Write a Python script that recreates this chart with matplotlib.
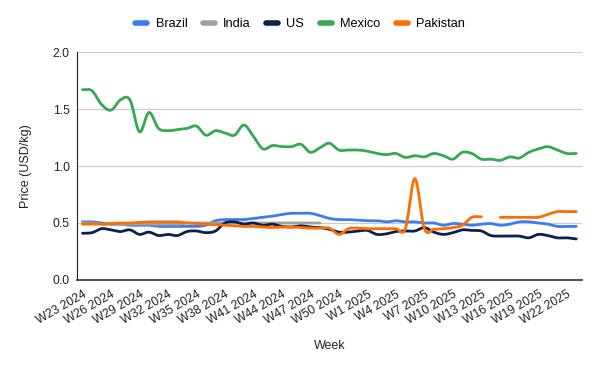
import numpy as np
import matplotlib
matplotlib.use("Agg")
import matplotlib.pyplot as plt

plt.rcParams["font.family"] = ["Liberation Sans", "DejaVu Sans"]

# weekly categories W23 2024 .. W23 2025
weeks = [f"W{w} 2024" for w in range(23, 53)] + [f"W{w} 2025" for w in range(1, 24)]
tick_labels = ["W23 2024", "W26 2024", "W29 2024", "W32 2024", "W35 2024", "W38 2024",
               "W41 2024", "W44 2024", "W47 2024", "W50 2024", "W1 2025", "W4 2025",
               "W7 2025", "W10 2025", "W13 2025", "W16 2025", "W19 2025", "W22 2025"]

nan = np.nan
brazil = [0.51, 0.51, 0.50, 0.49, 0.49, 0.48, 0.48, 0.48, 0.47, 0.47, 0.47, 0.47, 0.47, 0.48,
          0.52, 0.53, 0.53, 0.53, 0.54, 0.55, 0.56, 0.575, 0.585, 0.585, 0.585, 0.565, 0.54,
          0.53, 0.53, 0.525, 0.52, 0.52, 0.51, 0.52, 0.51, 0.51, 0.50, 0.50, 0.48, 0.495,
          0.49, 0.48, 0.49, 0.495, 0.48, 0.49, 0.51, 0.51, 0.50, 0.49, 0.47, 0.47, 0.47]
india = [0.50, 0.50, 0.49, 0.49, 0.49, 0.49, 0.49, 0.49, 0.49, 0.49, 0.49, 0.50, 0.50, 0.50,
         0.50, 0.50, 0.50, 0.50, 0.50, 0.50, 0.50, 0.50, 0.50, 0.50, 0.50, 0.50,
         nan, nan, nan, nan, nan, nan, nan, nan, nan, nan, nan, nan, nan, nan, nan, nan,
         nan, nan, nan, nan, nan, nan, nan, nan, nan, nan, nan]
us = [0.41, 0.415, 0.45, 0.44, 0.425, 0.44, 0.40, 0.42, 0.39, 0.40, 0.39, 0.425, 0.43, 0.415,
      0.43, 0.50, 0.51, 0.49, 0.50, 0.48, 0.49, 0.47, 0.465, 0.475, 0.465, 0.46, 0.445, 0.42,
      0.42, 0.43, 0.435, 0.40, 0.405, 0.425, 0.43, 0.43, 0.46, 0.42, 0.40, 0.415, 0.44, 0.435,
      0.43, 0.39, 0.385, 0.385, 0.385, 0.37, 0.40, 0.39, 0.37, 0.37, 0.36]
mexico = [1.67, 1.66, 1.54, 1.49, 1.58, 1.58, 1.30, 1.47, 1.33, 1.31, 1.32, 1.33, 1.35, 1.27,
          1.31, 1.29, 1.27, 1.36, 1.26, 1.15, 1.18, 1.17, 1.17, 1.19, 1.12, 1.16, 1.20, 1.14,
          1.14, 1.14, 1.13, 1.11, 1.10, 1.11, 1.075, 1.09, 1.08, 1.11, 1.09, 1.06, 1.12, 1.11,
          1.06, 1.06, 1.05, 1.08, 1.07, 1.12, 1.15, 1.17, 1.14, 1.11, 1.11]
pakistan = [0.49, 0.49, 0.49, 0.495, 0.50, 0.50, 0.505, 0.51, 0.51, 0.51, 0.51, 0.50, 0.495,
            0.49, 0.485, 0.48, 0.475, 0.47, 0.47, 0.465, 0.46, 0.465, 0.465, 0.46, 0.455, 0.455,
            0.455, 0.40, 0.45, 0.455, 0.45, 0.45, 0.45, 0.45, 0.45, 0.89, 0.45, 0.445, 0.45,
            0.46, 0.48, 0.55, 0.555, nan, 0.55, 0.55, 0.55, 0.55, 0.55, 0.575, 0.60, 0.60, 0.60]

series = [("Brazil", brazil, "#3b7ded"),
          ("India", india, "#9ba39d"),
          ("US", us, "#0d1f4f"),
          ("Mexico", mexico, "#34a853"),
          ("Pakistan", pakistan, "#ff6d01")]


def smooth(x, y, n=12):
    """Catmull-Rom through the points, split at gaps (like a smoothed sheet chart)."""
    x = np.asarray(x, float)
    y = np.asarray(y, float)
    ok = ~np.isnan(y)
    xs, ys = [], []
    idx = np.where(ok)[0]
    runs = np.split(idx, np.where(np.diff(idx) > 1)[0] + 1)
    for r in runs:
        px, py = x[r], y[r]
        if len(r) < 2:
            continue
        m = np.gradient(py, px) if len(r) > 2 else np.full(len(r), (py[1] - py[0]) / (px[1] - px[0]))
        if len(r) > 2:
            m[1:-1] = (py[2:] - py[:-2]) / (px[2:] - px[:-2])
        sx, sy = [], []
        for i in range(len(r) - 1):
            h = px[i + 1] - px[i]
            t = np.linspace(0, 1, n, endpoint=False)
            h00 = 2 * t**3 - 3 * t**2 + 1
            h10 = t**3 - 2 * t**2 + t
            h01 = -2 * t**3 + 3 * t**2
            h11 = t**3 - t**2
            sx.append(px[i] + t * h)
            sy.append(h00 * py[i] + h10 * h * m[i] + h01 * py[i + 1] + h11 * h * m[i + 1])
        sx.append([px[-1]])
        sy.append([py[-1]])
        xs.append(np.concatenate(sx))
        ys.append(np.concatenate(sy))
        xs.append([np.nan])
        ys.append([np.nan])
    return np.concatenate(xs), np.concatenate(ys)


fig = plt.figure(figsize=(6, 3.71), dpi=100)
ax = fig.add_axes([0.128, 0.2453, 0.842, 0.6145])

pos = np.arange(len(weeks))
for name, vals, color in series:
    sx, sy = smooth(pos, vals)
    ax.plot(sx, sy, color=color, lw=2, label=name, solid_capstyle="round")

ax.set_xlim(-0.6, len(weeks) - 0.4)
ax.set_ylim(0, 2.0)
ax.set_yticks([0, 0.5, 1.0, 1.5, 2.0])
ax.set_yticklabels(["0.0", "0.5", "1.0", "1.5", "2.0"])
ax.set_xticks([weeks.index(t) for t in tick_labels])
ax.set_xticklabels(tick_labels, rotation=30, ha="right", rotation_mode="anchor")
ax.tick_params(axis="both", length=0, labelsize=8.8, colors="#222222")
ax.tick_params(axis="x", pad=6)
ax.tick_params(axis="y", pad=5)
ax.grid(axis="y", color="#cccccc", lw=0.9)
ax.set_axisbelow(True)
for s in ["top", "right"]:
    ax.spines[s].set_visible(False)
ax.spines["left"].set_color("#222222")
ax.spines["bottom"].set_color("#333333")
ax.spines["bottom"].set_linewidth(1.2)

ax.set_ylabel("Price (USD/kg)", fontsize=9, color="#222222", labelpad=15)
ax.set_xlabel("Week", fontsize=9, color="#222222", labelpad=10)

fig.legend(loc="center", bbox_to_anchor=(0.5, 0.935), ncol=5, frameon=False,
           fontsize=9.2, handlelength=0.95, handletextpad=0.65, columnspacing=1.2)
for line in fig.legends[0].get_lines():
    line.set_linewidth(4)

fig.savefig("out.png", dpi=100)
